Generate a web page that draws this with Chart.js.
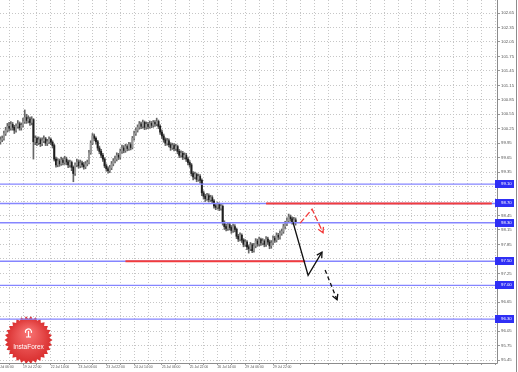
<!DOCTYPE html>
<html>
<head>
<meta charset="utf-8">
<script src="https://cdn.jsdelivr.net/npm/chart.js@4.4.1/dist/chart.umd.min.js"></script>
<style>
  html, body { margin: 0; padding: 0; background: #fff; }
</style>
</head>
<body>
<canvas id="myChart" width="518" height="372"></canvas>
<script>
// hourly candles, hour 0 = 19 Jul 22:00 (weekend hours are skipped like in the terminal)
const firstHour = -13;
const firstOpen = 99.98;
const closes = [
  100.02, 100.05, 100.15, 100.22, 100.30, 100.26, 100.34, 100.28, 100.22, 100.30,
  100.35, 100.27, 100.32, 100.40, 100.48, 100.42, 100.45, 100.38, 100.44, 99.98,
  100.05, 99.96, 100.02, 99.94, 100.00, 100.04, 99.95, 99.98, 100.03, 99.97,
  99.90, 99.62, 99.50, 99.58, 99.52, 99.60, 99.55, 99.62, 99.56, 99.50,
  99.55, 99.45, 99.32, 99.50, 99.56, 99.48, 99.54, 99.50, 99.46, 99.52,
  99.55, 99.75, 99.95, 100.10, 100.05, 99.98, 99.85, 99.78, 99.70, 99.62,
  99.48, 99.42, 99.38, 99.44, 99.52, 99.58, 99.62, 99.70, 99.66, 99.78,
  99.85, 99.80, 99.88, 99.84, 99.92, 99.86, 100.05, 100.15, 100.22, 100.28,
  100.35, 100.30, 100.38, 100.28, 100.34, 100.30, 100.36, 100.32, 100.38, 100.35,
  100.40, 100.30, 100.18, 100.10, 100.02, 99.95, 100.00, 99.92, 99.86, 99.90,
  99.84, 99.88, 99.78, 99.70, 99.74, 99.66, 99.70, 99.62, 99.55, 99.50,
  99.32, 99.25, 99.30, 99.20, 99.26, 99.18, 98.92, 98.85, 98.80, 98.86,
  98.78, 98.82, 98.75, 98.65, 98.62, 98.68, 98.60, 98.64, 98.30, 98.22,
  98.18, 98.26, 98.20, 98.14, 98.22, 98.16, 98.02, 97.96, 98.04, 97.94,
  97.85, 97.90, 97.80, 97.76, 97.84, 97.72, 97.82, 97.92, 97.86, 97.95,
  97.88, 97.92, 97.85, 97.96, 97.90, 97.82, 97.88, 97.98, 97.94, 98.04,
  98.00, 98.08, 98.12, 98.22, 98.28, 98.34, 98.42, 98.38, 98.32, 98.36,
  98.30
];
const highs = [
  100.08, 100.10, 100.20, 100.28, 100.36, 100.38, 100.40, 100.38, 100.32, 100.35,
  100.42, 100.39, 100.37, 100.47, 100.64, 100.55, 100.52, 100.49, 100.50, 100.46,
  100.10, 100.08, 100.08, 100.06, 100.06, 100.10, 100.07, 100.03, 100.08, 100.06,
  100.00, 99.93, 99.66, 99.63, 99.62, 99.66, 99.64, 99.68, 99.66, 99.60,
  99.60, 99.58, 99.48, 99.54, 99.62, 99.60, 99.60, 99.58, 99.55, 99.57,
  99.60, 99.80, 100.00, 100.15, 100.14, 100.08, 100.01, 99.89, 99.82, 99.74,
  99.65, 99.52, 99.46, 99.49, 99.57, 99.63, 99.68, 99.75, 99.74, 99.83,
  99.91, 99.90, 99.93, 99.92, 99.97, 99.96, 100.09, 100.20, 100.27, 100.33,
  100.40, 100.39, 100.43, 100.41, 100.39, 100.38, 100.41, 100.40, 100.42, 100.42,
  100.47, 100.43, 100.33, 100.22, 100.14, 100.06, 100.05, 100.04, 99.96, 99.95,
  99.94, 99.93, 99.91, 99.82, 99.79, 99.78, 99.75, 99.74, 99.66, 99.59,
  99.53, 99.36, 99.35, 99.33, 99.31, 99.30, 99.21, 98.96, 98.89, 98.91,
  98.90, 98.87, 98.86, 98.78, 98.69, 98.72, 98.71, 98.69, 98.67, 98.34,
  98.27, 98.31, 98.30, 98.24, 98.27, 98.26, 98.19, 98.06, 98.09, 98.07,
  97.97, 97.95, 97.93, 97.84, 97.89, 97.87, 97.87, 97.97, 97.96, 98.00,
  97.98, 97.97, 97.95, 98.01, 98.00, 97.94, 97.93, 98.03, 98.02, 98.09,
  98.08, 98.13, 98.17, 98.27, 98.33, 98.40, 98.48, 98.46, 98.42, 98.41,
  98.40
];
const lows = [
  99.93, 99.98, 100.01, 100.11, 100.18, 100.20, 100.22, 100.22, 100.15, 100.18,
  100.26, 100.22, 100.22, 100.28, 100.36, 100.36, 100.37, 100.32, 100.33, 99.62,
  99.92, 99.90, 99.92, 99.88, 99.90, 99.96, 99.90, 99.90, 99.94, 99.92,
  99.85, 99.58, 99.45, 99.46, 99.47, 99.49, 99.50, 99.51, 99.50, 99.44,
  99.45, 99.38, 99.15, 99.28, 99.46, 99.43, 99.44, 99.45, 99.41, 99.42,
  99.48, 99.52, 99.72, 99.92, 100.00, 99.93, 99.80, 99.73, 99.65, 99.57,
  99.44, 99.37, 99.33, 99.34, 99.40, 99.48, 99.54, 99.58, 99.61, 99.62,
  99.74, 99.75, 99.76, 99.79, 99.80, 99.81, 99.83, 100.01, 100.11, 100.18,
  100.24, 100.25, 100.26, 100.23, 100.24, 100.25, 100.26, 100.27, 100.28, 100.30,
  100.31, 100.25, 100.13, 100.05, 99.97, 99.90, 99.91, 99.87, 99.80, 99.82,
  99.79, 99.80, 99.73, 99.65, 99.66, 99.61, 99.62, 99.57, 99.50, 99.45,
  99.27, 99.19, 99.21, 99.15, 99.16, 99.12, 98.86, 98.79, 98.74, 98.76,
  98.73, 98.74, 98.70, 98.60, 98.57, 98.58, 98.55, 98.56, 98.25, 98.16,
  98.13, 98.14, 98.15, 98.08, 98.10, 98.11, 97.97, 97.91, 97.92, 97.89,
  97.80, 97.81, 97.74, 97.67, 97.72, 97.68, 97.69, 97.78, 97.81, 97.82,
  97.83, 97.84, 97.80, 97.81, 97.85, 97.76, 97.77, 97.84, 97.89, 97.90,
  97.95, 97.96, 98.04, 98.08, 98.18, 98.24, 98.30, 98.33, 98.27, 98.28,
  98.25
];

const xMin = -13.25;
const xMax = 273;
const gridHours = [-16, -8, 0, 8, 16, 24, 32, 40, 48, 56, 64, 72, 80, 88, 96, 104, 112, 120,
  128, 136, 144, 152, 160, 168, 176, 184, 192, 200, 208, 216, 224, 232, 240, 248, 256, 264, 272];
const labelHours = [-16, 0, 16, 32, 48, 64, 80, 96, 112, 128, 144];
const timeLabels = ['19 Jul 06:00', '19 Jul 22:00', '22 Jul 14:00', '23 Jul 06:00', '23 Jul 22:00',
  '24 Jul 14:00', '25 Jul 06:00', '25 Jul 22:00', '26 Jul 14:00', '29 Jul 06:00', '29 Jul 22:00'];

const yMin = 95.39;
const yMax = 102.92;
const priceTicks = [95.45, 95.75, 96.05, 96.35, 96.65, 96.95, 97.25, 97.55, 97.85, 98.15, 98.45,
  98.75, 99.05, 99.35, 99.65, 99.95, 100.25, 100.55, 100.85, 101.15, 101.45, 101.75, 102.05,
  102.35, 102.65];

// levels
const blueLevels = [99.10, 98.70, 98.30, 97.50, 97.00, 96.30];
const redLevels = [98.70, 97.50];
const redStart = [140, 59];
const redEnd = [270, 162.5];

// hand drawn arrows (hour, price)
const arrowMain = [[155.5, 98.31], [164.2, 97.21], [172.2, 97.69]];
const arrowNext = [[174.0, 97.32], [180.9, 96.70]];
const arrowRed = [[159.6, 98.29], [166.5, 98.58], [172.8, 98.09]];

// candles
let wicks = [];
let upBodies = [];
let downBodies = [];
closes.forEach((c, i) => {
  const o = i === 0 ? firstOpen : closes[i - 1];
  const x = firstHour + i;
  wicks.push({x: x, y: [lows[i], highs[i]]});
  const body = {x: x, y: [Math.min(o, c), Math.max(o, c)]};
  if (c >= o) upBodies.push(body); else downBodies.push(body);
});

const toXY = pts => pts.map(p => ({x: p[0], y: p[1]}));

let datasets = [
  {type: 'bar', data: wicks, backgroundColor: '#666', barThickness: 1, grouped: false, order: 10},
  {type: 'bar', data: upBodies, backgroundColor: '#9a9a9a', barThickness: 1.3, minBarLength: 1, grouped: false, order: 9},
  {type: 'bar', data: downBodies, backgroundColor: '#1e1e1e', barThickness: 1.3, minBarLength: 1, grouped: false, order: 9}
];
blueLevels.forEach(lvl => {
  datasets.push({type: 'line', data: [{x: xMin, y: lvl}, {x: xMax, y: lvl}],
    borderColor: '#8585ff', borderWidth: 1.4, pointRadius: 0, order: 6});
});
redLevels.forEach((lvl, i) => {
  datasets.push({type: 'line', data: [{x: redStart[i], y: lvl}, {x: redEnd[i], y: lvl}],
    borderColor: '#f23c3c', borderWidth: 2, pointRadius: 0, order: 5});
});
datasets.push({type: 'line', data: toXY(arrowMain), borderColor: '#111', borderWidth: 1.3,
  pointRadius: 0, arrowHead: true, order: 1});
datasets.push({type: 'line', data: toXY(arrowNext), borderColor: '#111', borderWidth: 1.3,
  borderDash: [4, 3], pointRadius: 0, arrowHead: true, order: 1});
datasets.push({type: 'line', data: toXY(arrowRed), borderColor: '#f23c3c', borderWidth: 1.3,
  borderDash: [6, 2.5], pointRadius: 0, arrowHead: true, order: 1});

const arrowHeads = {
  id: 'arrowHeads',
  afterDatasetsDraw(chart) {
    const ctx = chart.ctx;
    chart.data.datasets.forEach((ds, i) => {
      if (!ds.arrowHead) return;
      const pts = chart.getDatasetMeta(i).data;
      const a = pts[pts.length - 2], b = pts[pts.length - 1];
      const ang = Math.atan2(b.y - a.y, b.x - a.x);
      ctx.save();
      ctx.strokeStyle = ds.borderColor;
      ctx.lineWidth = ds.borderWidth;
      ctx.setLineDash([]);
      ctx.beginPath();
      ctx.moveTo(b.x - 6 * Math.cos(ang - 0.5), b.y - 6 * Math.sin(ang - 0.5));
      ctx.lineTo(b.x, b.y);
      ctx.lineTo(b.x - 6 * Math.cos(ang + 0.5), b.y - 6 * Math.sin(ang + 0.5));
      ctx.stroke();
      ctx.restore();
    });
  }
};

const logo = {
  id: 'logo',
  beforeDatasetsDraw(chart) {
    const {ctx, chartArea} = chart;
    const cx = 28.5, cy = 340;
    ctx.save();
    ctx.beginPath();
    ctx.rect(chartArea.left, chartArea.top, chartArea.width, chartArea.height);
    ctx.clip();
    const g = ctx.createRadialGradient(cx, cy - 8, 2, cx, cy, 24);
    g.addColorStop(0, '#f77070');
    g.addColorStop(1, '#d82c2c');
    ctx.fillStyle = g;
    ctx.beginPath();
    const n = 30;
    for (let i = 0; i < n * 2; i++) {
      const r = i % 2 ? 21 : 24;
      const a = i * Math.PI / n;
      const px = cx + r * Math.cos(a), py = cy + r * Math.sin(a);
      if (i === 0) ctx.moveTo(px, py); else ctx.lineTo(px, py);
    }
    ctx.closePath();
    ctx.fill();
    // small emblem
    ctx.strokeStyle = '#fff';
    ctx.fillStyle = '#fff';
    ctx.lineWidth = 1.2;
    ctx.beginPath();
    ctx.arc(cx, cy - 8, 3, Math.PI * 0.9, Math.PI * 2.1);
    ctx.stroke();
    ctx.beginPath();
    ctx.moveTo(cx, cy - 9);
    ctx.lineTo(cx, cy - 3);
    ctx.moveTo(cx - 2.5, cy - 3);
    ctx.lineTo(cx + 2.5, cy - 3);
    ctx.stroke();
    ctx.font = '6.5px "Liberation Sans", Arial, sans-serif';
    ctx.textAlign = 'center';
    ctx.textBaseline = 'alphabetic';
    ctx.fillText('InstaForex', cx, cy + 8.5);
    ctx.restore();
  }
};

const frame = {
  id: 'frame',
  afterDraw(chart) {
    const {ctx, chartArea} = chart;
    const yScale = chart.scales.y;
    ctx.save();
    ctx.strokeStyle = '#8c8c8c';
    ctx.lineWidth = 1;
    ctx.beginPath();
    ctx.moveTo(0, chartArea.bottom + 0.5);
    ctx.lineTo(chartArea.right + 0.5, chartArea.bottom + 0.5);
    ctx.moveTo(chartArea.right + 0.5, 0);
    ctx.lineTo(chartArea.right + 0.5, chartArea.bottom + 0.5);
    ctx.moveTo(516.5, 0);
    ctx.lineTo(516.5, chart.height);
    ctx.stroke();
    // level labels on the price axis
    ctx.font = '4.3px "Liberation Sans", Arial, sans-serif';
    ctx.textAlign = 'left';
    ctx.textBaseline = 'middle';
    blueLevels.forEach(lvl => {
      const y = yScale.getPixelForValue(lvl);
      ctx.fillStyle = '#2f2ff5';
      ctx.fillRect(chartArea.right - 2, Math.round(y) - 4, 19, 8);
      ctx.fillStyle = '#fff';
      ctx.fillText(lvl.toFixed(2), chartArea.right + 4, Math.round(y));
    });
    ctx.restore();
  }
};

const ctx = document.getElementById('myChart');
new Chart(ctx, {
  type: 'bar',
  data: {datasets: datasets},
  plugins: [logo, arrowHeads, frame],
  options: {
    responsive: false,
    animation: false,
    layout: {padding: 0},
    plugins: {legend: {display: false}, tooltip: {enabled: false}},
    scales: {
      x: {
        type: 'linear',
        min: xMin,
        max: xMax,
        offset: false,
        afterBuildTicks: scale => { scale.ticks = gridHours.map(v => ({value: v})); },
        afterFit: scale => { scale.height = 9; scale.paddingLeft = 0; scale.paddingRight = 0; },
        grid: {color: '#c6c6c6', offset: false, tickLength: 2, tickColor: '#999'},
        border: {display: false, dash: [1, 2]},
        ticks: {
          autoSkip: false,
          maxRotation: 0,
          align: 'start',
          padding: 0,
          color: '#555',
          font: {size: 3.4, family: '"Liberation Sans", Arial, sans-serif'},
          callback: value => {
            const i = labelHours.indexOf(value);
            return i >= 0 ? timeLabels[i] : '';
          }
        }
      },
      y: {
        position: 'right',
        min: yMin,
        max: yMax,
        afterBuildTicks: scale => { scale.ticks = priceTicks.map(v => ({value: v})); },
        afterFit: scale => { scale.width = 21; scale.paddingTop = 0; scale.paddingBottom = 0; },
        grid: {color: '#c6c6c6', tickLength: 3, tickColor: '#999'},
        border: {display: false, dash: [1, 2]},
        ticks: {
          padding: 1,
          color: '#555',
          font: {size: 4.3, family: '"Liberation Sans", Arial, sans-serif'},
          callback: value => value.toFixed(2)
        }
      }
    }
  }
});
</script>
</body>
</html>
